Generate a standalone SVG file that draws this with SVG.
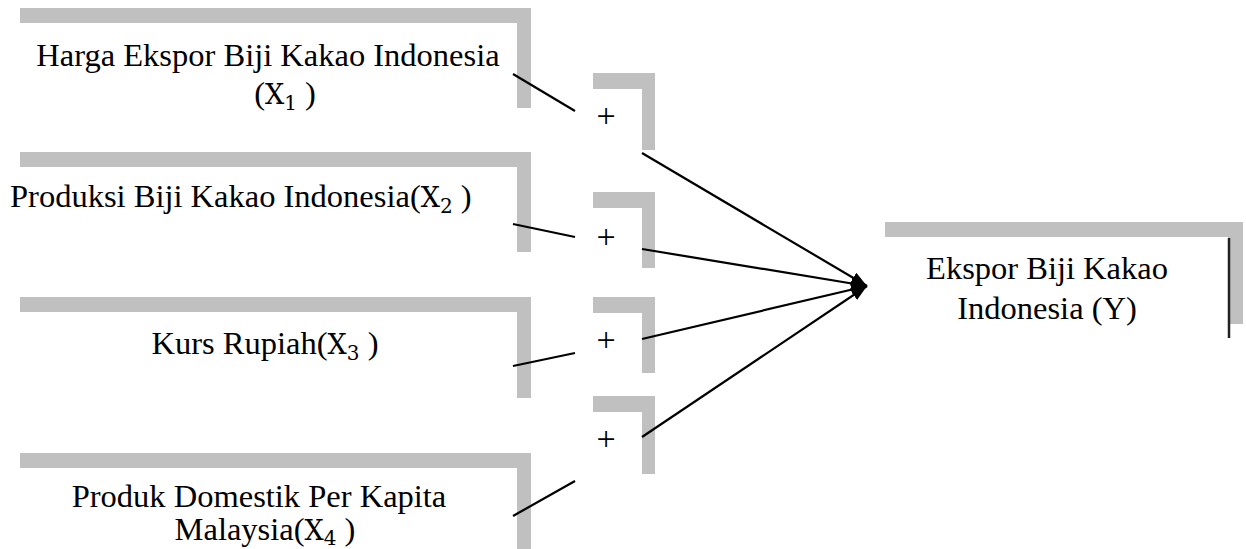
<svg xmlns="http://www.w3.org/2000/svg" width="1246" height="549" viewBox="0 0 1246 549">
  <defs>
    <style>
      .bar { fill: #c0c0c0; }
      .lbl { font-family: "Liberation Serif", "Times New Roman", serif; font-size: 32.5px; fill: #000; text-anchor: middle; }
      .lbl-l { font-family: "Liberation Serif", "Times New Roman", serif; font-size: 32.5px; fill: #000; }
      .math { font-family: "DejaVu Serif", "Liberation Serif", serif; font-size: 27px; }
      .sub { font-family: "DejaVu Serif", "Liberation Serif", serif; font-size: 20px; }
      .plus { font-family: "Liberation Serif", serif; font-size: 34px; fill: #000; text-anchor: middle; }
      .link { stroke: #000; stroke-width: 2.2; fill: none; }
    </style>
    <marker id="head" viewBox="0 0 16 12" refX="16" refY="6" markerWidth="16" markerHeight="12" markerUnits="userSpaceOnUse" orient="auto">
      <path d="M0,0 L16,6 L0,12 z" fill="#000"/>
    </marker>
  </defs>

  <!-- independent variables -->
  <g id="x1">
    <rect class="bar" x="20" y="8" width="511" height="15"/>
    <rect class="bar" x="517" y="8" width="14" height="100"/>
    <text class="lbl" x="268" y="66">Harga Ekspor Biji Kakao Indonesia</text>
    <text class="lbl" x="285" y="104">(<tspan class="math">X</tspan><tspan class="sub" dy="6">1</tspan><tspan dy="-6"> )</tspan></text>
  </g>

  <g id="x2">
    <rect class="bar" x="20" y="152" width="511" height="15"/>
    <rect class="bar" x="517" y="152" width="14" height="100"/>
    <text class="lbl-l" x="10" y="207">Produksi Biji Kakao Indonesia(<tspan class="math">X</tspan><tspan class="sub" dy="6">2</tspan><tspan dy="-6"> )</tspan></text>
  </g>

  <g id="x3">
    <rect class="bar" x="20" y="297" width="511" height="15"/>
    <rect class="bar" x="517" y="297" width="14" height="101"/>
    <text class="lbl" x="265" y="354">Kurs Rupiah(<tspan class="math">X</tspan><tspan class="sub" dy="6">3</tspan><tspan dy="-6"> )</tspan></text>
  </g>

  <g id="x4">
    <rect class="bar" x="20" y="453" width="511" height="15"/>
    <rect class="bar" x="517" y="453" width="14" height="96"/>
    <text class="lbl" x="259" y="507">Produk Domestik Per Kapita</text>
    <text class="lbl" x="265" y="540">Malaysia(<tspan class="math">X</tspan><tspan class="sub" dy="5">4</tspan><tspan dy="-5"> )</tspan></text>
  </g>

  <!-- positive-effect markers -->
  <g id="s1">
    <rect class="bar" x="593" y="73" width="62" height="16"/>
    <rect class="bar" x="642" y="73" width="13" height="77"/>
    <text class="plus" x="606" y="127">+</text>
  </g>
  <g id="s2">
    <rect class="bar" x="593" y="192" width="62" height="16"/>
    <rect class="bar" x="642" y="192" width="13" height="76"/>
    <text class="plus" x="606" y="248">+</text>
  </g>
  <g id="s3">
    <rect class="bar" x="593" y="297" width="62" height="16"/>
    <rect class="bar" x="642" y="297" width="13" height="76"/>
    <text class="plus" x="606" y="351">+</text>
  </g>
  <g id="s4">
    <rect class="bar" x="593" y="396" width="62" height="16"/>
    <rect class="bar" x="642" y="396" width="13" height="78"/>
    <text class="plus" x="606" y="450">+</text>
  </g>

  <!-- dependent variable -->
  <g id="y">
    <rect class="bar" x="885" y="222" width="358" height="15"/>
    <rect class="bar" x="1228" y="222" width="15" height="102"/>
    <line x1="1229" y1="238" x2="1229" y2="338" stroke="#222" stroke-width="2.5"/>
    <text class="lbl" x="1047" y="279">Ekspor Biji Kakao</text>
    <text class="lbl" x="1047" y="319">Indonesia (Y)</text>
  </g>

  <!-- connectors -->
  <g id="connectors">
    <line class="link" x1="513" y1="74" x2="575" y2="111"/>
    <line class="link" x1="513" y1="224" x2="575" y2="237"/>
    <line class="link" x1="513" y1="366" x2="575" y2="353"/>
    <line class="link" x1="513" y1="516" x2="575" y2="481"/>
    <line class="link" x1="642" y1="153" x2="867" y2="286" marker-end="url(#head)"/>
    <line class="link" x1="642" y1="249" x2="867" y2="286" marker-end="url(#head)"/>
    <line class="link" x1="642" y1="339" x2="867" y2="286" marker-end="url(#head)"/>
    <line class="link" x1="642" y1="437" x2="867" y2="286" marker-end="url(#head)"/>
  </g>
</svg>
